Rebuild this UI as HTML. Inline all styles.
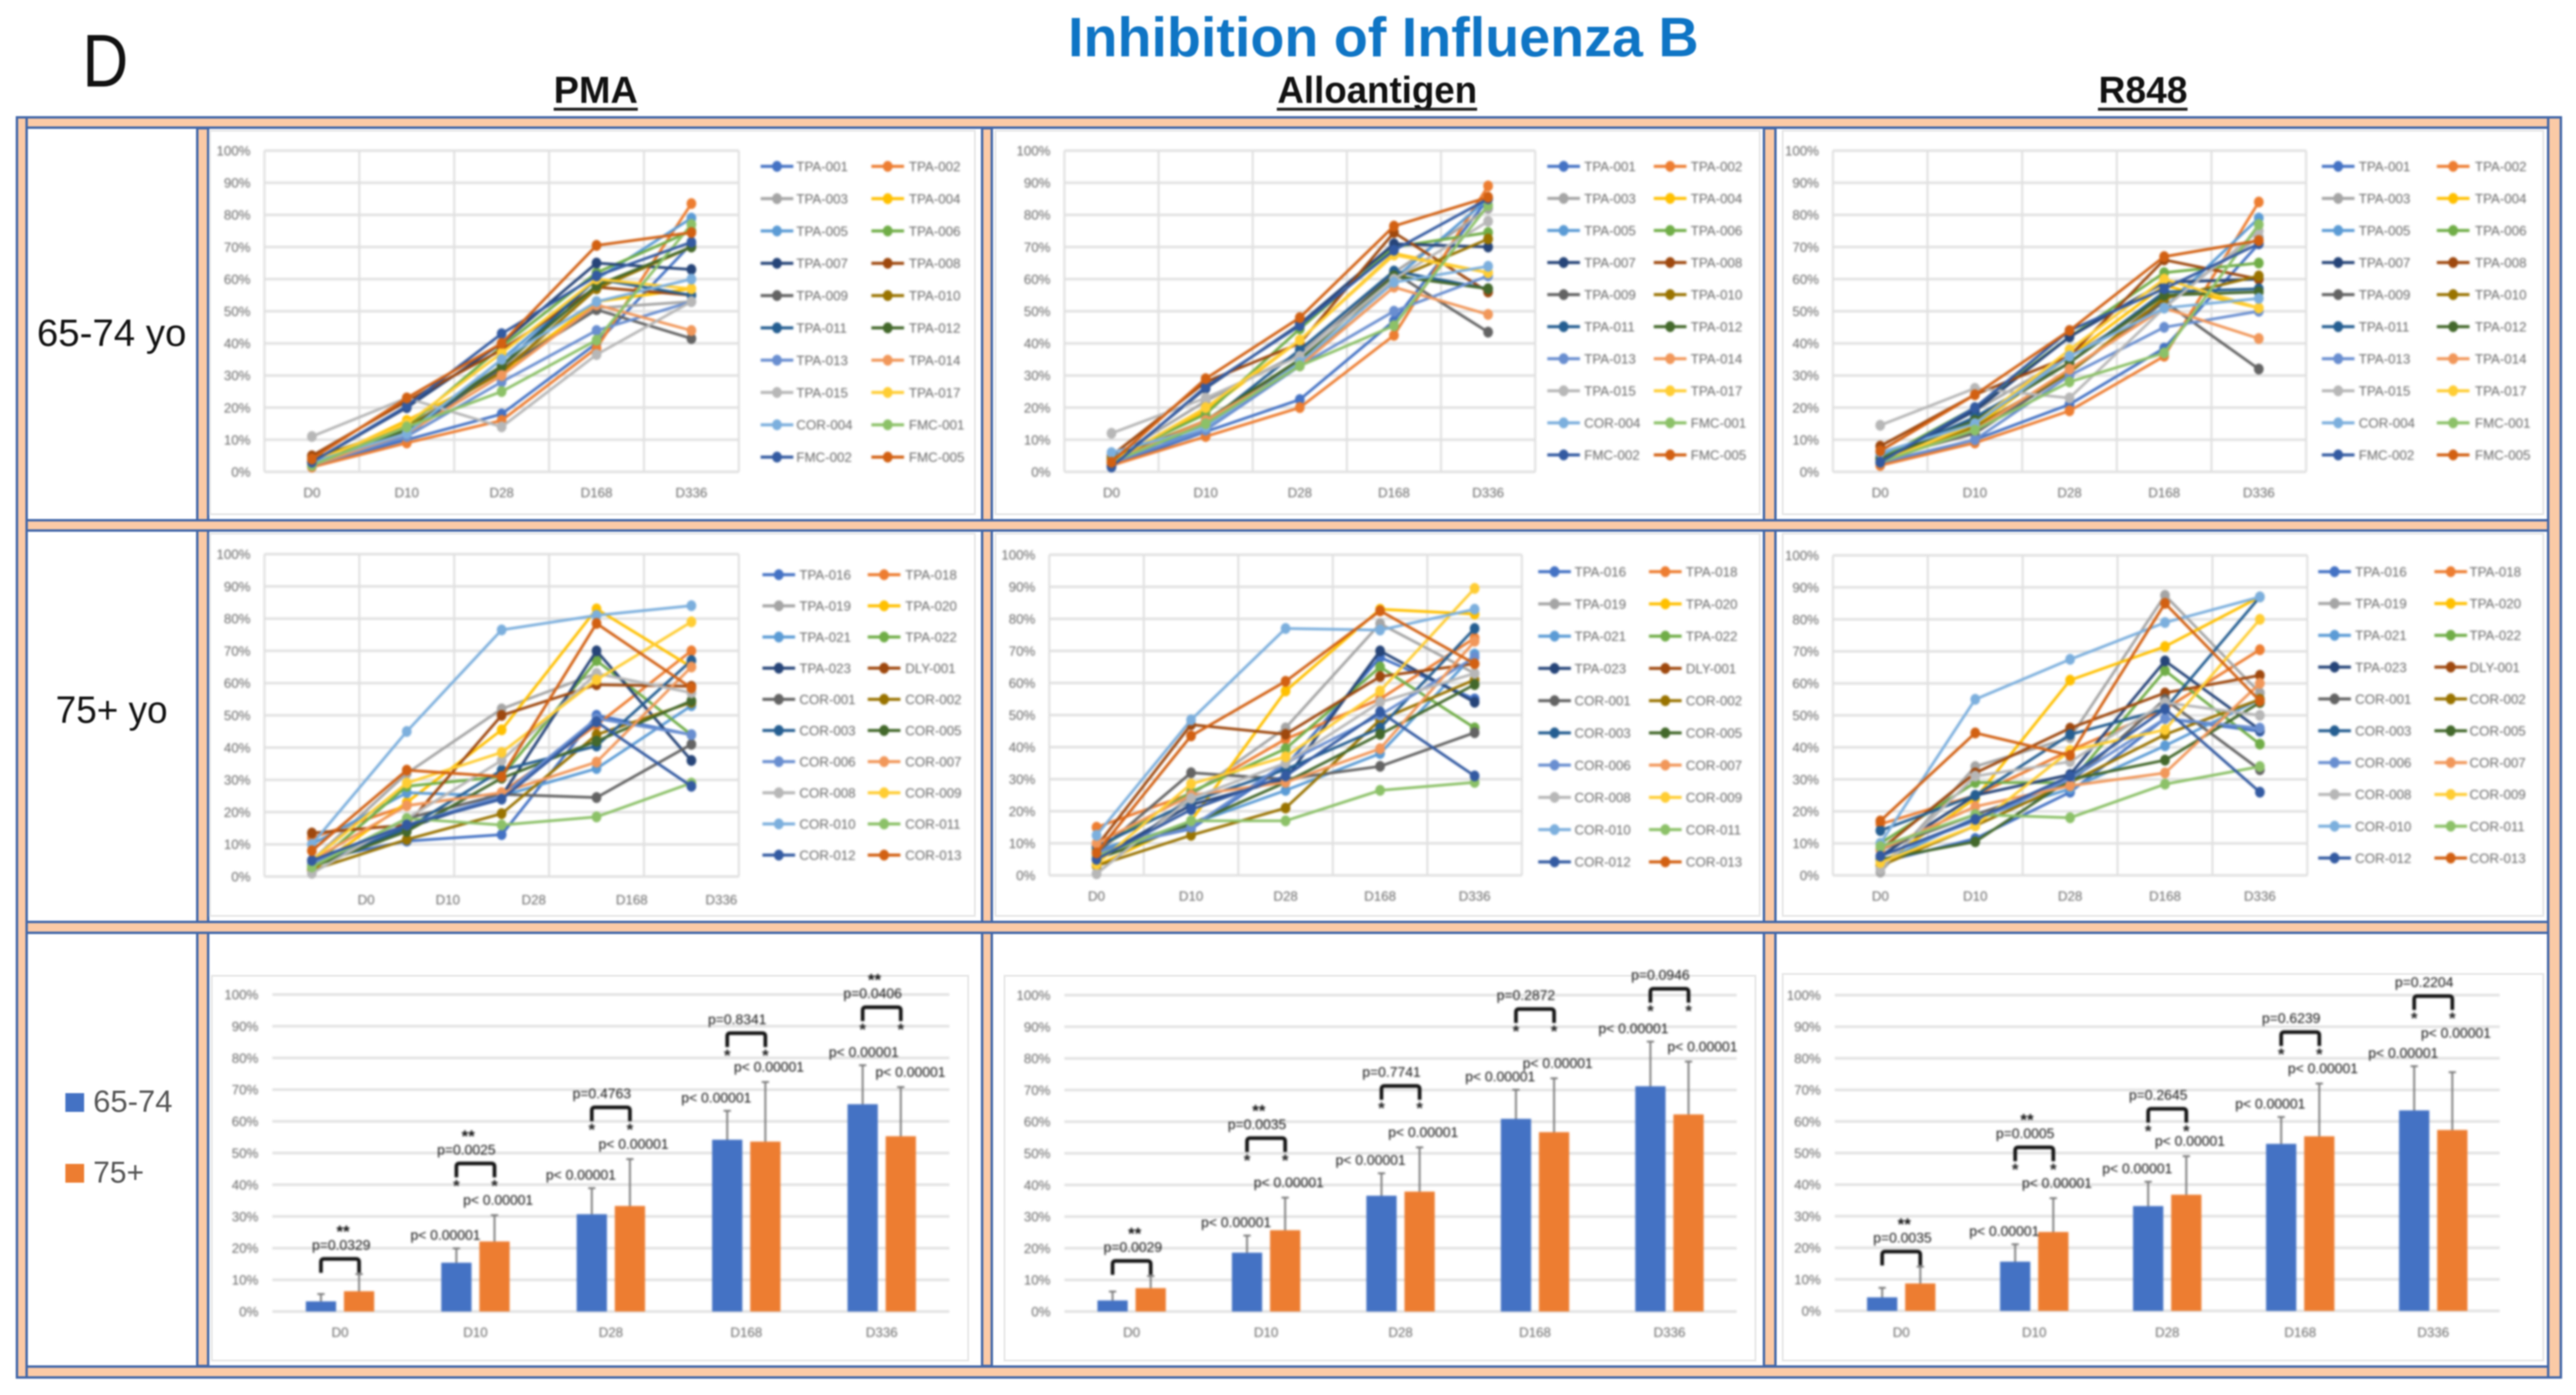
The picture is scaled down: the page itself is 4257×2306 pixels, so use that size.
<!DOCTYPE html>
<html lang="en">
<head>
<meta charset="utf-8">
<title>Inhibition of Influenza B</title>
<style>
html,body{margin:0;padding:0;background:#fff;width:4257px;height:2306px;overflow:hidden}
svg{display:block;font-family:"Liberation Sans",sans-serif}
.band{fill:#fbcaa6;stroke:#4267a9;stroke-width:4}
.area{fill:#fff;stroke:#e6e6e6;stroke-width:3}
.head{font-weight:700;font-size:62px;fill:#111}
.under{fill:#222}
.row{font-size:63px;fill:#111}
#static-layer{filter:blur(1.3px)}
#charts{filter:blur(1.9px)}
</style>
</head>
<body>
<svg id="figure" xmlns="http://www.w3.org/2000/svg" width="4257" height="2306" viewBox="0 0 4257 2306">
  <rect x="0" y="0" width="4257" height="2306" fill="#fff"/>
  <g id="static-layer">
  <text x="136" y="143" font-size="123" fill="#111" textLength="76" lengthAdjust="spacingAndGlyphs">D</text>
  <text x="1765" y="93" font-size="92" font-weight="700" fill="#0f75c5" textLength="1042" lengthAdjust="spacingAndGlyphs">Inhibition of Influenza B</text>

  <text class="head" x="915" y="170" textLength="139" lengthAdjust="spacingAndGlyphs">PMA</text>
  <rect class="under" x="915" y="178" width="139" height="5"/>
  <text class="head" x="2111" y="170" textLength="330" lengthAdjust="spacingAndGlyphs">Alloantigen</text>
  <rect class="under" x="2110" y="178" width="331" height="5"/>
  <text class="head" x="3468" y="170" textLength="147" lengthAdjust="spacingAndGlyphs">R848</text>
  <rect class="under" x="3467" y="178" width="148" height="5"/>

  <rect class="band" x="28" y="194" width="16" height="2083"/>
  <rect class="band" x="4211" y="194" width="21" height="2083"/>
  <rect class="band" x="326" y="212" width="18" height="2046"/>
  <rect class="band" x="1623" y="212" width="16" height="2046"/>
  <rect class="band" x="2915" y="212" width="19" height="2046"/>
  <rect class="band" x="44" y="194" width="4167" height="17"/>
  <rect class="band" x="44" y="860" width="4167" height="17"/>
  <rect class="band" x="44" y="1524" width="4167" height="18"/>
  <rect class="band" x="44" y="2259" width="4167" height="18"/>

  <rect class="area" x="347" y="216" width="1264" height="634"/>
  <rect class="area" x="1645" y="216" width="1263" height="634"/>
  <rect class="area" x="2946" y="216" width="1257" height="634"/>
  <rect class="area" x="347" y="882" width="1264" height="632"/>
  <rect class="area" x="1645" y="882" width="1263" height="632"/>
  <rect class="area" x="2946" y="882" width="1257" height="632"/>
  <rect class="area" x="350" y="1613" width="1250" height="636"/>
  <rect class="area" x="1660" y="1613" width="1241" height="636"/>
  <rect class="area" x="2946" y="1610" width="1257" height="639"/>

  <text class="row" x="61" y="572" textLength="247" lengthAdjust="spacingAndGlyphs">65-74 yo</text>
  <text class="row" x="92" y="1195" textLength="185" lengthAdjust="spacingAndGlyphs">75+ yo</text>

  <rect x="108" y="1807" width="31" height="31" fill="#4472c4"/>
  <text x="154" y="1838" font-size="51" fill="#555" textLength="131" lengthAdjust="spacingAndGlyphs">65-74</text>
  <rect x="108" y="1924" width="31" height="31" fill="#ed7d31"/>
  <text x="154" y="1955" font-size="50" fill="#555" textLength="84" lengthAdjust="spacingAndGlyphs">75+</text>
  </g>

  <g id="charts"></g>
</svg>

<script>
const days = ['D0', 'D10', 'D28', 'D168', 'D336'];
const yTicks = [0, 10, 20, 30, 40, 50, 60, 70, 80, 90, 100];

const youngIds = ['TPA-001','TPA-002','TPA-003','TPA-004','TPA-005','TPA-006','TPA-007','TPA-008','TPA-009','TPA-010','TPA-011','TPA-012','TPA-013','TPA-014','TPA-015','TPA-017','COR-004','FMC-001','FMC-002','FMC-005'];
const oldIds = ['TPA-016','TPA-018','TPA-019','TPA-020','TPA-021','TPA-022','TPA-023','DLY-001','COR-001','COR-002','COR-003','COR-005','COR-006','COR-007','COR-008','COR-009','COR-010','COR-011','COR-012','COR-013'];

const pmaYoung = [
[2,10,18,40,71],[1.5,9,16,38.5,83.5],[3,14,33,51,53],[2,16,31,53,57],[2,11,35,60,79],
[4,14,39,62,75],[3,20,40,65,63],[5,22,38,57.5,55],[3,12,32,50.5,41.5],[4,14,31,57,70],
[3,12,33,60,55],[3,13,33,58,70],[2,11,28,44,53],[2,12,30,52,44],[11,23,14,36.5,53],
[3,15,37,60,57],[3,12,35,53,60],[2,14,25,41,77],[3,20.5,43,61,71.5],[4,23,40,70.5,74.5]];
const alloYoung = [
[2,12.5,22.5,47,85],[2,11,20,42.5,89],[4,22,37,62,82],[3,19,41,68,62],[5,13,33,60,85],
[4,18,44.5,70,74.5],[2,26,46,71,70],[5,28,40,74.5,56],[4,15,35,62,43.5],[4,16,33,60,72.5],
[3,15,38,62.5,57],[3,16,35,61,57],[3,13,33,50,61],[3,16,33,57.5,49],[12,23,36,60,78],
[3,20,41,67.5,62],[6,14,34,59,64],[3,15,33,45.5,83],[1.5,26.5,45.5,69,85],[3,29,48,76.5,85.5]];
const r848Young = [
[2.5,10,21,38.5,71],[2,9,19,36,84],[4,19,36,53,73],[3,14,36,58,51],[5,16,36,51,79],
[4,20,42,62,65],[3,19,42,59,60],[8,24,36,66,60],[4,12,31,53,32],[4,14,31,54,61],
[4,17,34,56,57],[4,16,34,55,56],[3,10,30,45,50],[3,13,32,51,41.5],[14.5,26,23,51,75],
[3,15,38,60,51],[6,15,36,51,54],[3,13,28,37,77],[3,20,44,57,71],[6.5,24,44,67,72]];

const pmaOld = [
[5,11,13,50,44],[12,22,26,47,70],[5,32,52,63,57],[2,23,45.5,83,65],[10,26,25,33.5,53],
[3,28,31,67,44],[5,15,25,70,36],[13.5,16,50,59.5,59],[3,18,25.5,24.5,41],[2,11.5,19.5,44,54],
[3,15,33,40.5,67],[3,14,30.5,42,54.5],[4,16,25,49,44],[5,22,26,35.5,65],[1,18,36,63,57],
[5,29,38.5,61,79],[10,45,76.5,81,84],[3,18,16,18.5,29],[5,16,24,48,28],[8,33,31,78.5,58.5]];
const alloOld = [
[8,14.5,34,68,55],[15,25.5,42.5,55,74],[0.5,25,46,78.5,63],[3,17,57.5,83,81.5],[8,16,26.5,38,69],
[8,26,39.5,65,46],[5,22,30,70,54],[9,47,44,62,66],[7,32,30,34,44.5],[3,12.5,21,48.5,61],
[9,23,33,46,77],[5,16,29,44,59.5],[7,15,35,50,68],[10,25,29,39.5,73],[0.5,24,35,54,63],
[3.5,28.5,37,57.5,89.5],[12.5,48.5,77,76.5,83],[6,17,17,26.5,29],[5,20.5,31,51,31],[7,43.5,60.5,82.5,66]];
const r848Old = [
[4,11.5,26,49,45],[16,25,39,52,70.5],[1,34,43,87.5,57],[3.5,24,61,71.5,87],[4,18,27,40.5,55],
[10,29,29,64,41],[6,25,31.5,67,45.5],[8,32,46,57,62.5],[8,19,29,55,33],[3,15.5,29,44,55],
[14,25,44,52,87],[5,10.5,30,36,54],[6,17,30,49,46],[8,21.5,28,32,60],[2,31,35.5,54,50],
[4,15.5,39,45.5,80],[10,55,67.5,79,87],[9,19,18,28.5,34],[6,17.5,31,52,26],[17,44.5,37.5,85,54.5]];

const pmaMean65 = [3.2,15.4,30.7,54.2,65.4];
const pmaMean75 = [6.4,22.1,33.3,53.6,55.3];
const pmaUpper65 = [5.5,19.9,38.9,63.3,77.7];
const pmaUpper75 = [11.8,30.4,48.1,72.4,70.8];
const pmaBracket = [16.6,46.7,64.4,87.8,96];
const pmaPValues = ['p=0.0329','p=0.0025','p=0.4763','p=0.8341','p=0.0406'];
const pmaStars = ['**','**','','','**'];

const alloMean65 = [3.5,18.6,36.6,60.9,71.2];
const alloMean75 = [7.4,25.7,37.9,56.7,62.3];
const alloUpper65 = [6.3,24,43.7,70.1,85.3];
const alloUpper75 = [11.2,36,51.9,73.7,79];
const alloBracket = [16,54.8,71.3,95.6,102];
const alloPValues = ['p=0.0029','p=0.0035','p=0.7741','p=0.2872','p=0.0946'];
const alloStars = ['**','**','','',''];

const r848Mean65 = [4.3,15.6,33.2,52.9,63.5];
const r848Mean75 = [8.7,25,36.8,55.3,57.3];
const r848Upper65 = [7.3,21.1,40.9,61.4,77.5];
const r848Upper75 = [14,35.7,49,72,75.6];
const r848Bracket = [18.8,51.8,64,88.3,99.7];
const r848PValues = ['p=0.0035','p=0.0005','p=0.2645','p=0.6239','p=0.2204'];
const r848Stars = ['**','**','','',''];

const palette = ['#4472C4','#ED7D31','#A5A5A5','#FFC000','#5B9BD5','#70AD47','#264478','#9E480E','#636363','#997300','#255E91','#43682B','#698ED0','#F1975A','#B7B7B7','#FFCD33','#7CAFDD','#8CC168','#335AA1','#D26012'];

const NS = 'http://www.w3.org/2000/svg';
const root = document.getElementById('charts');

function make(parent, tag, attrs, text) {
  const node = document.createElementNS(NS, tag);
  for (const k in attrs) node.setAttribute(k, attrs[k]);
  if (text !== undefined) node.textContent = text;
  parent.appendChild(node);
  return node;
}

function bandScale(left, right, count) {
  const step = (right - left) / count;
  return function (i) { return left + step * (i + 0.5); };
}
function valueScale(top, bottom) {
  return function (v) { return bottom - (v / 100) * (bottom - top); };
}

function drawLinePanel(name, box, lg, ids, values) {
  const x = bandScale(box.left, box.right, days.length);
  const y = valueScale(box.top, box.bottom);
  const g = make(root, 'g', {});
  
  

  for (let d = 0; d <= days.length; d++) {
    const gx = box.left + (box.right - box.left) * d / days.length;
    const v = make(g, 'line', {x1: gx, x2: gx, y1: box.top, y2: box.bottom, stroke: '#dcdcdc', 'stroke-width': 3});
    
    
  }
  yTicks.forEach(function (t) {
    const h = make(g, 'line', {x1: box.left, x2: box.right, y1: y(t), y2: y(t), stroke: '#e0e0e0', 'stroke-width': 4});
    
    
    const lab = make(g, 'text', {x: box.left - 23, y: y(t) + 8, 'text-anchor': 'end', 'font-size': 22, fill: '#666'}, t + '%');
    
    
  });
  days.forEach(function (day, i) {
    const lx = box.labelXs ? box.labelXs[i] : x(i);
    const lab = make(g, 'text', {x: lx, y: box.bottom + box.labelGap, 'text-anchor': 'middle', 'font-size': 22, fill: '#666'}, day);
    
    
  });

  values.forEach(function (series, s) {
    const color = palette[s];
    const pts = series.map(function (v, i) { return x(i) + ',' + y(v); }).join(' ');
    const line = make(g, 'polyline', {points: pts, fill: 'none', stroke: color, 'stroke-width': 4.5, 'stroke-linejoin': 'round'});
    
    
    series.forEach(function (v, i) {
      const dot = make(g, 'ellipse', {cx: x(i), cy: y(v), rx: 8, ry: 9, fill: color});
      
      
    });
  });

  ids.forEach(function (id, s) {
    const col = s % 2;
    const rowY = lg.top + Math.floor(s / 2) * lg.step;
    const mx = col === 0 ? lg.m1 : lg.m2;
    const tx = col === 0 ? lg.t1 : lg.t2;
    const handle = make(g, 'line', {x1: mx - 27, x2: mx + 27, y1: rowY, y2: rowY, stroke: palette[s], 'stroke-width': 5});
    
    
    const mark = make(g, 'ellipse', {cx: mx, cy: rowY, rx: 8, ry: 9, fill: palette[s]});
    
    
    const label = make(g, 'text', {x: tx, y: rowY + 8, 'font-size': 22, fill: '#666'}, id);
    
    
  });
}

function drawBarPanel(name, box, mean65, mean75, upper65, upper75, bracket, pValues, stars) {
  const x = bandScale(box.left, box.right, days.length);
  const y = valueScale(box.top, box.bottom);
  const g = make(root, 'g', {});
  
  
  const nudges = box.nudges || {};

  yTicks.forEach(function (t) {
    const h = make(g, 'line', {x1: box.left, x2: box.right, y1: y(t), y2: y(t), stroke: '#e0e0e0', 'stroke-width': 4});
    
    
    const lab = make(g, 'text', {x: box.left - 23, y: y(t) + 8, 'text-anchor': 'end', 'font-size': 22, fill: '#666'}, t + '%');
    
    
  });

  days.forEach(function (day, i) {
    const c65 = x(i) - 31.5;
    const c75 = x(i) + 31.5;
    const dayLabel = make(g, 'text', {x: x(i), y: 2210, 'text-anchor': 'middle', 'font-size': 22, fill: '#666'}, day);
    
    

    const bar65 = make(g, 'rect', {x: c65 - 25, y: y(mean65[i]), width: 50, height: y(0) - y(mean65[i]), fill: '#4472C4'});
    
    
    const bar75 = make(g, 'rect', {x: c75 - 25, y: y(mean75[i]), width: 50, height: y(0) - y(mean75[i]), fill: '#ED7D31'});
    
    

    const err65 = make(g, 'path', {d: 'M' + c65 + ' ' + y(mean65[i]) + 'V' + y(upper65[i]) + 'M' + (c65 - 6) + ' ' + y(upper65[i]) + 'H' + (c65 + 6), stroke: '#777', 'stroke-width': 3, fill: 'none'});
    
    
    const err75 = make(g, 'path', {d: 'M' + c75 + ' ' + y(mean75[i]) + 'V' + y(upper75[i]) + 'M' + (c75 - 6) + ' ' + y(upper75[i]) + 'H' + (c75 + 6), stroke: '#777', 'stroke-width': 3, fill: 'none'});
    
    

    const by = y(bracket[i]);
    const br = make(g, 'path', {d: 'M' + c65 + ' ' + (by + 23) + 'V' + (by + 5) + 'Q' + c65 + ' ' + by + ' ' + (c65 + 5) + ' ' + by + 'H' + (c75 - 5) + 'Q' + c75 + ' ' + by + ' ' + c75 + ' ' + (by + 5) + 'V' + (by + 23), stroke: '#111', 'stroke-width': 6, fill: 'none'});
    
    

    const pdx = i === 0 ? 2 : -15;
    const pText = make(g, 'text', {x: x(i) + pdx, y: by - 15, 'text-anchor': 'middle', 'font-size': 23, fill: '#111'}, pValues[i]);
    
    

    if (stars[i]) {
      const st = make(g, 'text', {x: x(i) + pdx + 3, y: by - 36, 'text-anchor': 'middle', 'font-size': 28, 'font-weight': 700, fill: '#111'}, stars[i]);
      
      
    }

    if (i > 0) {
      const n65 = nudges['b' + i] || [0, 0];
      const n75 = nudges['o' + i] || [0, 0];
      const p65 = make(g, 'text', {x: c65 - 18 + n65[0], y: y(upper65[i]) - 14 + n65[1], 'text-anchor': 'middle', 'font-size': 23, fill: '#111'}, 'p< 0.00001');
      
      
      const p75 = make(g, 'text', {x: c75 + 6 + n75[0], y: y(upper75[i]) - 17 + n75[1], 'text-anchor': 'middle', 'font-size': 23, fill: '#111'}, 'p< 0.00001');
      
      
      const d1 = make(g, 'text', {x: c65, y: by + 46, 'text-anchor': 'middle', 'font-size': 28, 'font-weight': 700, fill: '#222'}, '*');
      
      
      const d2 = make(g, 'text', {x: c75, y: by + 46, 'text-anchor': 'middle', 'font-size': 28, 'font-weight': 700, fill: '#222'}, '*');
      
      
    }
  });
}

drawLinePanel('line-chart-pma-65-74', {left: 437, right: 1221, top: 249, bottom: 780, labelGap: 42},
  {m1: 1284, t1: 1316, m2: 1467, t2: 1502, top: 275, step: 53.4}, youngIds, pmaYoung);
drawLinePanel('line-chart-alloantigen-65-74', {left: 1759, right: 2537, top: 249, bottom: 780, labelGap: 42},
  {m1: 2584, t1: 2618, m2: 2760, t2: 2794, top: 275, step: 53}, youngIds, alloYoung);
drawLinePanel('line-chart-r848-65-74', {left: 3029, right: 3811, top: 249, bottom: 780, labelGap: 42},
  {m1: 3864, t1: 3898, m2: 4054, t2: 4090, top: 275, step: 53}, youngIds, r848Young);

drawLinePanel('line-chart-pma-75-plus', {left: 437, right: 1221, top: 916, bottom: 1449, labelGap: 46, labelXs: [605, 740, 882, 1044, 1192]},
  {m1: 1287, t1: 1321, m2: 1461, t2: 1496, top: 950, step: 51.5}, oldIds, pmaOld);
drawLinePanel('line-chart-alloantigen-75-plus', {left: 1734, right: 2515, top: 917, bottom: 1447, labelGap: 42},
  {m1: 2569, t1: 2602, m2: 2752, t2: 2786, top: 945, step: 53.3}, oldIds, alloOld);
drawLinePanel('line-chart-r848-75-plus', {left: 3029, right: 3813, top: 918, bottom: 1447, labelGap: 42},
  {m1: 3858, t1: 3892, m2: 4050, t2: 4081, top: 945, step: 52.6}, oldIds, r848Old);

drawBarPanel('bar-chart-pma', {left: 450, right: 1569, top: 1644, bottom: 2168, nudges: {b4: [20, 0], o4: [10, 0]}},
  pmaMean65, pmaMean75, pmaUpper65, pmaUpper75, pmaBracket, pmaPValues, pmaStars);
drawBarPanel('bar-chart-alloantigen', {left: 1759, right: 2870, top: 1645, bottom: 2168, nudges: {b3: [-8, 0], b4: [-10, 0], o4: [17, 0]}},
  alloMean65, alloMean75, alloUpper65, alloUpper75, alloBracket, alloPValues, alloStars);
drawBarPanel('bar-chart-r848', {left: 3032, right: 4131, top: 1645, bottom: 2167, nudges: {o4: [0, -40]}},
  r848Mean65, r848Mean75, r848Upper65, r848Upper75, r848Bracket, r848PValues, r848Stars);
</script>
</body>
</html>
